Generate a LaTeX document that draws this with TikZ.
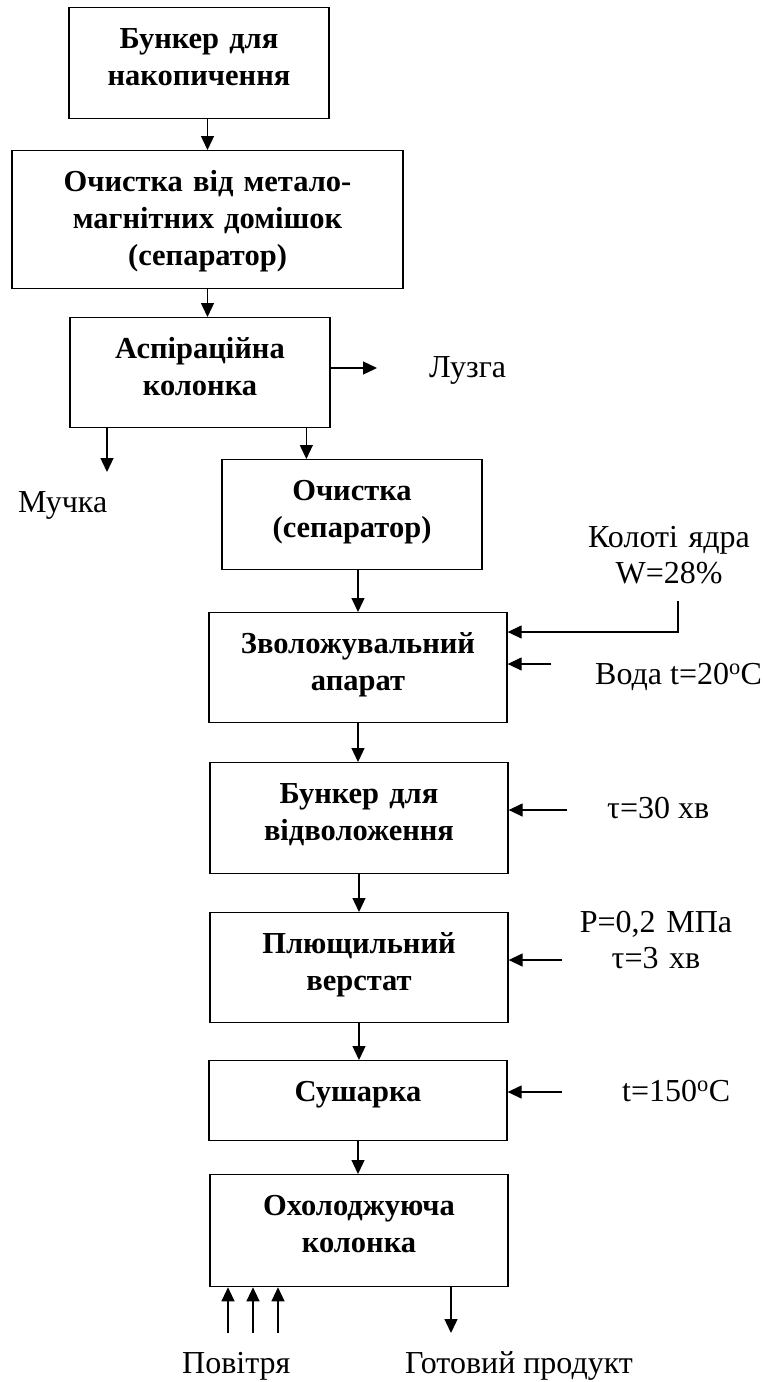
\documentclass[tikz,border=0pt]{standalone}
\usepackage{fontspec}
\setmainfont{Liberation Serif}
\usetikzlibrary{arrows.meta}

\tikzset{
  stage/.style 2 args={draw, line width=1.3pt, inner sep=0pt, anchor=north,
    text width=#1, text height=41pt, text depth=#2, align=center,
    font=\fontsize{30.5}{37}\selectfont\bfseries},
  lbl/.style={inner sep=0pt, font=\fontsize{32}{36}\selectfont},
  flow/.style={line width=1.3pt, -{Triangle[length=14pt,width=13pt]}}
}

\begin{document}
\begin{tikzpicture}[x=1pt,y=-1pt]
    \useasboundingbox (0,0) rectangle (763,1382);
    % stages
    \node[stage={260pt}{70pt}] (bunker) at (199,7) {Бункер для\\накопичення};
    \node[stage={391pt}{97pt}] (magnet) at (207.5,150) {Очистка від метало-\\магнітних домішок\\(сепаратор)};
    \node[stage={260pt}{69pt}] (aspir) at (200,317) {Аспіраційна\\колонка};
    \node[stage={260pt}{69pt}] (sep) at (352,459) {Очистка\\(сепаратор)};
    \node[stage={298pt}{69pt}] (wet) at (358,612) {Зволожувальний\\апарат};
    \node[stage={298pt}{70pt}] (rest) at (359,762) {Бункер для\\відволоження};
    \node[stage={298pt}{69pt}] (flat) at (359,912) {Плющильний\\верстат};
    \node[stage={298pt}{39pt}] (dry) at (358,1060) {Сушарка};
    \node[stage={298pt}{71pt}] (cool) at (359,1174) {Охолоджуюча\\колонка};
    % side texts
    \node[lbl, anchor=base west] (husk) at (429,377) {Лузга};
    \node[lbl, anchor=base west] (dust) at (18,512) {Мучка};
    \node[lbl, anchor=base, text width=180pt, align=center] (kern) at (669,547) {Колоті ядра\\W=28\%};
    \node[lbl, anchor=base west] (water) at (595,684) {Вода t=20\textsuperscript{o}C};
    \node[lbl, anchor=base west] (tau) at (607,818) {τ=30 хв};
    \node[lbl, anchor=base, text width=170pt, align=center] (press) at (656,932) {P=0,2 МПа\\τ=3 хв};
    \node[lbl, anchor=base west] (temp) at (622,1101) {t=150\textsuperscript{o}C};
    \node[lbl, anchor=base west] (air) at (182,1373) {Повітря};
    \node[lbl, anchor=base west] (prod) at (405,1373) {Готовий продукт};
    % loose ends
    \coordinate (huskend) at (377,368);
    \coordinate (dustend) at (107,472);
    \coordinate (kernup) at (678,601);
    \coordinate (waterst) at (551,664);
    \coordinate (taust) at (567,810);
    \coordinate (pressst) at (562,960);
    \coordinate (tempst) at (562,1092);
    \coordinate (prodend) at (451,1333);
    % main line
    \draw[flow] (magnet.north |- bunker.south) -- (magnet.north);
    \draw[flow] (magnet.south) -- (magnet.south |- aspir.north);
    \draw[flow] (aspir.east |- huskend) -- (huskend);
    \draw[flow] (aspir.south -| dustend) -- (dustend);
    \draw[flow] ([xshift=85pt]sep.north west |- aspir.south) -- ([xshift=85pt]sep.north west);
    \draw[flow] (wet.north |- sep.south) -- (wet.north);
    \draw[flow] (kernup) -- (kernup |- 0,632) -- (wet.east |- 0,632);
    \draw[flow] (waterst) -- (wet.east |- waterst);
    \draw[flow] (wet.south) -- (wet.south |- rest.north);
    \draw[flow] (taust) -- (rest.east |- taust);
    \draw[flow] (rest.south) -- (flat.north);
    \draw[flow] (pressst) -- (flat.east |- pressst);
    \draw[flow] (flat.south) -- (flat.south |- dry.north);
    \draw[flow] (tempst) -- (dry.east |- tempst);
    \draw[flow] (dry.south) -- (dry.south |- cool.north);
    \foreach \ax in {228,253,278}
        \draw[flow] (\ax,1333) -- (cool.south -| \ax,0);
    \draw[flow] (cool.south -| prodend) -- (prodend);
\end{tikzpicture}
\end{document}
